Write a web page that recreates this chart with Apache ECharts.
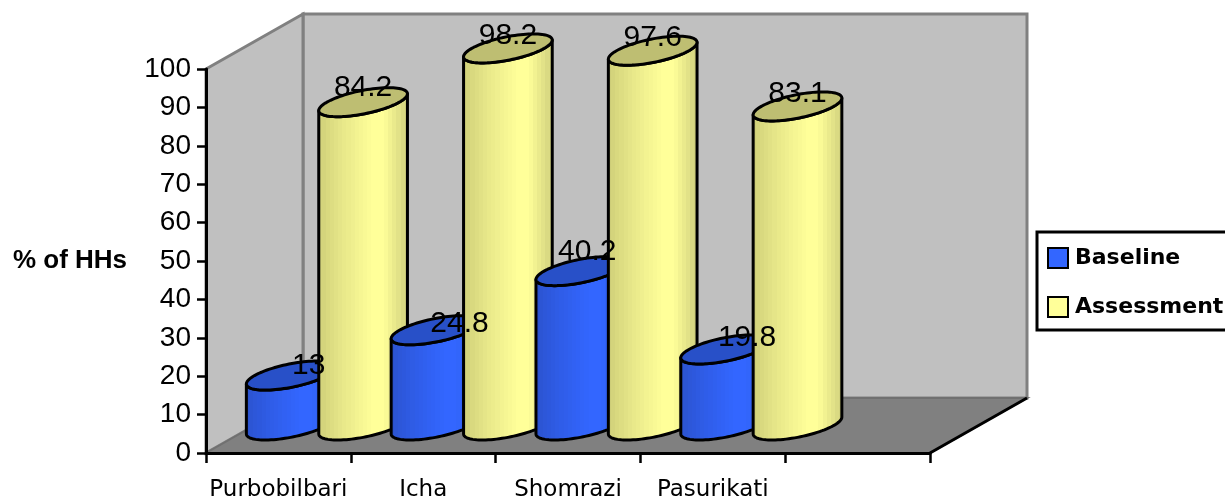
<!DOCTYPE html>
<html>
<head>
<meta charset="utf-8">
<title>% of HHs by village</title>
<script src="https://cdn.jsdelivr.net/npm/echarts@6/dist/echarts.min.js"></script>
<style>
  html, body { margin: 0; padding: 0; background: #fff; }
  #chart { width: 1225px; height: 499px; }
</style>
</head>
<body>
<div id="chart"></div>
<script>
// Village categories; the trailing blank keeps the empty fifth band of the axis.
const categories = ['Purbobilbari', 'Icha', 'Shomrazi', 'Pasurikati', ''];
const baseline = [13, 24.8, 40.2, 19.8];
const assessment = [84.2, 98.2, 97.6, 83.1];

// Hand placement of the value labels, in pixels from each cylinder's top centre.
const baselineLabelShift = [[18, -10], [24, -7], [7, -19], [22, -12]];
const assessmentLabelShift = [[0, -14], [0, -13], [0, -13], [0, -13]];

// Oblique projection of the chart's depth axis.
const DEPTH = [97, -55];
const DEPTH_RADIUS = 0.264;

const SANS = '"Liberation Sans", Arial, sans-serif';
const HAND = '"Comic Sans MS", "DejaVu Sans", sans-serif';

// Vertical shading of a cylinder side, split into hard-edged bands.
function bandedFill(dark, bright, rightEdge) {
  const mix = (a, b, k) => a.map((v, i) => Math.round(v + (b[i] - v) * k));
  const stops = [];
  const n = 22;
  for (let i = 0; i < n; i++) {
    const t = (i + 0.5) / n;
    const c = t < 0.62
      ? mix(dark, bright, Math.pow(t / 0.62, 0.7))
      : t < 0.72 ? bright : mix(bright, rightEdge, (t - 0.72) / 0.28);
    const css = `rgb(${c[0]},${c[1]},${c[2]})`;
    stops.push({ offset: i / n, color: css }, { offset: (i + 1) / n, color: css });
  }
  return { type: 'linear', x: 0, y: 0, x2: 1, y2: 0, colorStops: stops };
}

const YELLOW_SIDE = bandedFill([200, 200, 116], [255, 255, 153], [206, 206, 124]);
const BLUE_SIDE = bandedFill([42, 80, 200], [51, 102, 255], [44, 88, 216]);

function cylinderItem(sign, top, side, labelShift) {
  return function (params, api) {
    const i = params.dataIndex;
    const band = api.size([1, 0])[0];
    const cx = api.coord([api.value(0), 0])[0] + sign * band / 4 + DEPTH[0] * 0.5;
    const base = api.coord([0, 0])[1] + DEPTH[1] * 0.5;
    const head = api.coord([0, api.value(1)])[1] + DEPTH[1] * 0.5;

    const a = band / 4;
    const rx = DEPTH[0] * DEPTH_RADIUS;
    const ry = DEPTH[1] * DEPTH_RADIUS;
    const t0 = Math.atan2(rx, a);
    const at = (t, cy) => [cx + a * Math.cos(t) + rx * Math.sin(t), cy + ry * Math.sin(t)];

    const steps = 48;
    const sidePts = [];
    for (let k = 0; k <= steps; k++) sidePts.push(at(t0 - Math.PI * k / steps, head));
    for (let k = 0; k <= steps; k++) sidePts.push(at(t0 - Math.PI + Math.PI * k / steps, base));
    const topPts = [];
    for (let k = 0; k < steps * 2; k++) topPts.push(at(Math.PI * k / steps, head));

    const order = i * 2 + (sign > 0 ? 1 : 0);
    const line = { stroke: '#000', lineWidth: 3, lineJoin: 'round' };
    const shift = labelShift[i];
    return {
      type: 'group',
      children: [
        { type: 'polygon', z2: 10 + order, shape: { points: sidePts }, style: Object.assign({ fill: side }, line) },
        { type: 'polygon', z2: 10 + order, shape: { points: topPts }, style: Object.assign({ fill: top }, line) },
        {
          type: 'text', z2: 100,
          x: cx + shift[0], y: head + shift[1],
          style: {
            text: String(api.value(1)),
            fill: '#000', font: '30px ' + SANS,
            textAlign: 'center', textVerticalAlign: 'middle'
          }
        }
      ]
    };
  };
}

// Back wall, side wall and floor of the chart box.
function boxItem(params) {
  const g = params.coordSys;
  const [dx, dy] = DEPTH;
  const x0 = g.x, x1 = g.x + g.width, y0 = g.y, y1 = g.y + g.height;
  const edge = { stroke: '#808080', lineWidth: 3 };
  return {
    type: 'group',
    children: [
      { type: 'polygon', z2: 1, shape: { points: [[x0 + dx, y0 + dy], [x1 + dx, y0 + dy], [x1 + dx, y1 + dy], [x0 + dx, y1 + dy]] },
        style: Object.assign({ fill: '#c0c0c0' }, edge) },
      { type: 'polygon', z2: 2, shape: { points: [[x0, y0], [x0 + dx, y0 + dy], [x0 + dx, y1 + dy], [x0, y1]] },
        style: Object.assign({ fill: '#c0c0c0' }, edge) },
      { type: 'polygon', z2: 3, shape: { points: [[x0, y1], [x0 + dx, y1 + dy], [x1 + dx, y1 + dy], [x1, y1]] },
        style: { fill: '#808080', stroke: '#707070', lineWidth: 2 } },
      { type: 'line', z2: 4, shape: { x1: x1, y1: y1, x2: x1 + dx, y2: y1 + dy },
        style: { stroke: '#000', lineWidth: 3 } }
    ]
  };
}

const chart = echarts.init(document.getElementById('chart'), null, { renderer: 'canvas' });
chart.setOption({
  animation: false,
  backgroundColor: '#fff',
  grid: { left: 206, right: 295, top: 69, bottom: 46, outerBoundsMode: 'none' },
  legend: {
    orient: 'vertical',
    left: 1037,
    top: 232,
    padding: [15, 60, 12, 10],
    itemWidth: 20,
    itemHeight: 20,
    itemGap: 27,
    icon: 'rect',
    selectedMode: false,
    backgroundColor: '#fff',
    borderColor: '#000',
    borderWidth: 3,
    borderRadius: 0,
    data: ['Baseline', 'Assessment'],
    textStyle: { color: '#000', fontFamily: HAND, fontWeight: 'bold', fontSize: 22, padding: [0, 0, 0, 2] }
  },
  xAxis: {
    type: 'category',
    data: categories,
    z: 10,
    axisLine: { lineStyle: { color: '#000', width: 3 } },
    axisTick: { show: true, alignWithLabel: false, length: 10, lineStyle: { color: '#000', width: 2.5 } },
    axisLabel: { color: '#000', fontFamily: HAND, fontSize: 23, margin: 26, interval: 0 },
    splitLine: { show: false }
  },
  yAxis: {
    type: 'value',
    min: 0,
    max: 100,
    interval: 10,
    z: 10,
    name: '% of HHs',
    nameLocation: 'middle',
    nameRotate: 0,
    nameGap: 136,
    nameTextStyle: { color: '#000', fontFamily: SANS, fontWeight: 'bold', fontSize: 26, align: 'center', verticalAlign: 'middle', padding: [5, 0, 0, 0] },
    axisLine: { show: true, lineStyle: { color: '#000', width: 3 } },
    axisTick: { show: true, length: 9, lineStyle: { color: '#000', width: 2.5 } },
    axisLabel: { color: '#000', fontFamily: SANS, fontSize: 28, margin: 15 },
    splitLine: { show: false }
  },
  series: [
    {
      name: 'Box',
      type: 'custom',
      silent: true,
      z: 1,
      renderItem: boxItem,
      data: [0],
      encode: { x: 0 },
      legendHoverLink: false
    },
    {
      name: 'Baseline',
      type: 'custom',
      z: 2,
      itemStyle: { color: '#3366ff', borderColor: '#000', borderWidth: 2 },
      renderItem: cylinderItem(-1, '#2850c8', BLUE_SIDE, baselineLabelShift),
      data: baseline.map((v, i) => [i, v]),
      encode: { x: 0, y: 1 }
    },
    {
      name: 'Assessment',
      type: 'custom',
      z: 2,
      itemStyle: { color: '#ffff99', borderColor: '#000', borderWidth: 2 },
      renderItem: cylinderItem(1, '#bebe72', YELLOW_SIDE, assessmentLabelShift),
      data: assessment.map((v, i) => [i, v]),
      encode: { x: 0, y: 1 }
    }
  ]
});
</script>
</body>
</html>
